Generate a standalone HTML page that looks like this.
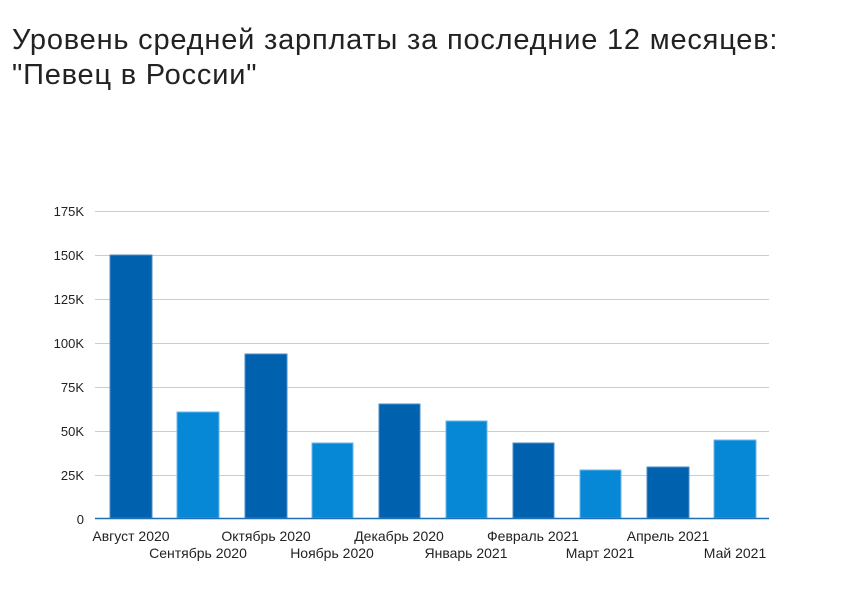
<!DOCTYPE html>
<html><head><meta charset="utf-8"><style>
body{margin:0;background:#fff;width:852px;height:604px;overflow:hidden;font-family:"Liberation Sans",sans-serif}
.t{position:absolute;left:12px;top:23px;font-size:29px;letter-spacing:0.8px;line-height:35px;color:#222}
</style></head><body>
<div class="t">Уровень средней зарплаты за последние 12 месяцев:<br>"Певец в России"</div>
<svg width="852" height="604" style="position:absolute;left:0;top:0;z-index:-1" font-family="Liberation Sans, sans-serif" font-size="13" fill="#222">
<g stroke="#ccc" stroke-width="1">
<line x1="95" x2="769" y1="211.5" y2="211.5"/><line x1="95" x2="769" y1="255.5" y2="255.5"/>
<line x1="95" x2="769" y1="299.5" y2="299.5"/><line x1="95" x2="769" y1="343.5" y2="343.5"/>
<line x1="95" x2="769" y1="387.5" y2="387.5"/><line x1="95" x2="769" y1="431.5" y2="431.5"/>
<line x1="95" x2="769" y1="475.5" y2="475.5"/>
</g>
<g text-anchor="end">
<text x="84" y="216">175K</text><text x="84" y="260">150K</text><text x="84" y="304">125K</text>
<text x="84" y="348">100K</text><text x="84" y="392">75K</text><text x="84" y="436">50K</text>
<text x="84" y="480">25K</text><text x="84" y="524">0</text>
</g>
<g stroke-width="1">
<rect x="110" y="255" width="42" height="263" fill="#0061AE" stroke="#4d8ec8"/>
<rect x="177" y="412" width="42" height="106" fill="#0788D6" stroke="#6bb6e6"/>
<rect x="245" y="354" width="42" height="164" fill="#0061AE" stroke="#4d8ec8"/>
<rect x="312" y="443" width="41" height="75" fill="#0788D6" stroke="#6bb6e6"/>
<rect x="379" y="404" width="41" height="114" fill="#0061AE" stroke="#4d8ec8"/>
<rect x="446" y="421" width="41" height="97" fill="#0788D6" stroke="#6bb6e6"/>
<rect x="513" y="443" width="41" height="75" fill="#0061AE" stroke="#4d8ec8"/>
<rect x="580" y="470" width="41" height="48" fill="#0788D6" stroke="#6bb6e6"/>
<rect x="647" y="467" width="42" height="51" fill="#0061AE" stroke="#4d8ec8"/>
<rect x="714" y="440" width="42" height="78" fill="#0788D6" stroke="#6bb6e6"/>
</g>
<line x1="95" x2="769" y1="518.5" y2="518.5" stroke="#1f6fb8" stroke-width="1.5"/>
<g text-anchor="middle" font-size="14">
<text x="131" y="541">Август 2020</text><text x="198" y="558">Сентябрь 2020</text>
<text x="266" y="541">Октябрь 2020</text><text x="332" y="558">Ноябрь 2020</text>
<text x="399" y="541">Декабрь 2020</text><text x="466" y="558">Январь 2021</text>
<text x="533" y="541">Февраль 2021</text><text x="600" y="558">Март 2021</text>
<text x="668" y="541">Апрель 2021</text><text x="735" y="558">Май 2021</text>
</g>
</svg>
</body></html>
